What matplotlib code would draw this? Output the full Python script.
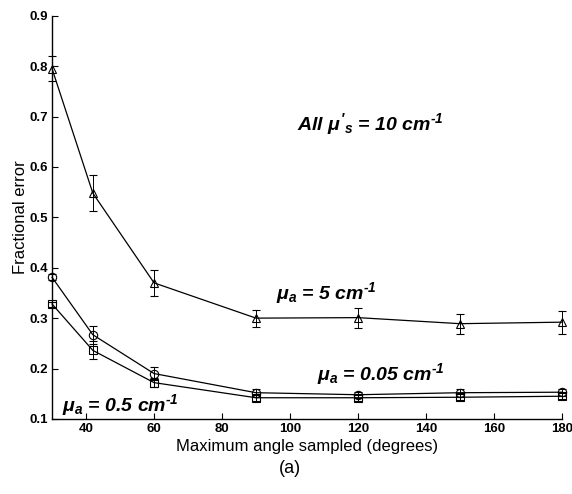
import numpy as np
import matplotlib.pyplot as plt

plt.rcParams['font.family'] = ['Liberation Sans', 'DejaVu Sans']
plt.rcParams['mathtext.fontset'] = 'custom'
plt.rcParams['mathtext.rm'] = 'Liberation Sans:bold:italic'
plt.rcParams['mathtext.it'] = 'Liberation Sans:bold:italic'
plt.rcParams['mathtext.bf'] = 'Liberation Sans:bold:italic'

# Data
angles = [30, 42, 60, 90, 120, 150, 180]

err_mua5 = [0.795, 0.548, 0.370, 0.300, 0.301, 0.289, 0.292]
sd_mua5 = [0.025, 0.036, 0.026, 0.017, 0.020, 0.020, 0.023]

err_mua005 = [0.381, 0.267, 0.190, 0.152, 0.148, 0.152, 0.153]
sd_mua005 = [0.006, 0.018, 0.013, 0.008, 0.006, 0.008, 0.007]

err_mua05 = [0.328, 0.236, 0.172, 0.142, 0.142, 0.143, 0.145]
sd_mua05 = [0.005, 0.018, 0.009, 0.006, 0.006, 0.006, 0.006]

x_ticks = [40, 60, 80, 100, 120, 140, 160, 180]
y_ticks = [0.1, 0.2, 0.3, 0.4, 0.5, 0.6, 0.7, 0.8, 0.9]

fig = plt.figure(figsize=(5.72, 4.94), dpi=100)
ax = fig.add_axes([0.091, 0.152, 0.8915, 0.816])

style = dict(color='black', linewidth=0.9, markersize=6, markerfacecolor='none',
             markeredgecolor='black', markeredgewidth=0.8, capsize=3,
             elinewidth=0.7, ecolor='black', capthick=0.7, clip_on=False)
ax.errorbar(angles, err_mua5, yerr=sd_mua5, marker='^', **style)
ax.errorbar(angles, err_mua005, yerr=sd_mua005, marker='o', **style)
ax.errorbar(angles, err_mua05, yerr=sd_mua05, marker='s', **style)

ax.set_xlim(30, 180)
ax.set_ylim(0.1, 0.9)
ax.set_xticks(x_ticks)
ax.set_yticks(y_ticks)
ax.set_xticklabels([str(t) for t in x_ticks], fontweight='bold', fontsize=9.5)
ax.set_yticklabels([f'{t:.1f}' for t in y_ticks], fontweight='bold', fontsize=9.5)
ax.tick_params(direction='in', length=4, width=0.8, pad=3)
ax.spines['top'].set_visible(False)
ax.spines['right'].set_visible(False)
ax.spines['left'].set_linewidth(1.0)
ax.spines['bottom'].set_linewidth(1.0)

ax.set_xlabel('Maximum angle sampled (degrees)', fontsize=12, labelpad=3)
ax.set_ylabel('Fractional error', fontsize=12, labelpad=1)

tkw = dict(fontsize=14, fontweight='bold', style='italic', va='center', ha='left')
ax.text(102, 0.685, r"All $\mu'_s$ = 10 cm$^{\text{-1}}$", **tkw)
ax.text(96, 0.35, r'$\mu_a$ = 5 cm$^{\text{-1}}$', **tkw)
ax.text(108, 0.19, r'$\mu_a$ = 0.05 cm$^{\text{-1}}$', **tkw)
ax.text(33, 0.128, r'$\mu_a$ = 0.5 cm$^{\text{-1}}$', **tkw)

fig.text(0.507, 0.052, '(a)', fontsize=13, ha='center', va='center')

fig.savefig('out.png', dpi=100, facecolor='white')
